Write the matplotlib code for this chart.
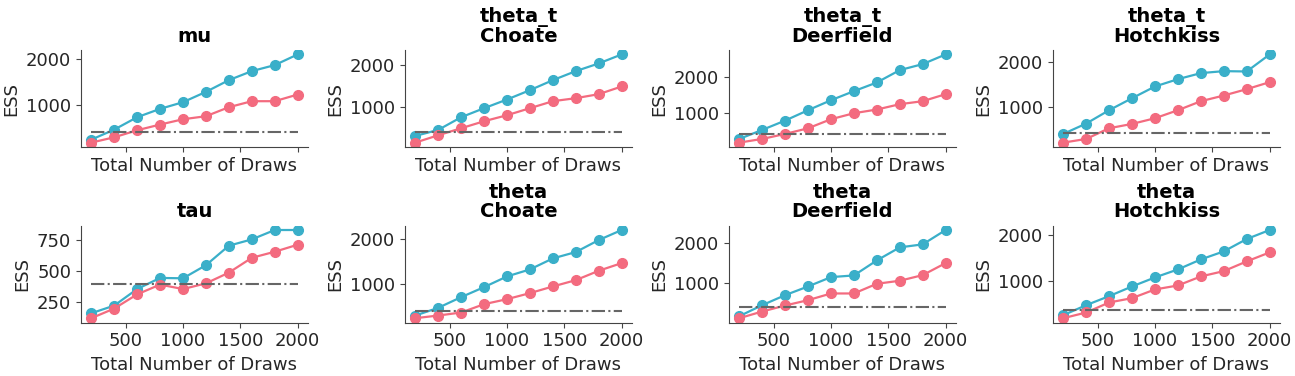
import numpy as np
import matplotlib
matplotlib.use("Agg")
import matplotlib.pyplot as plt

draws = [200, 400, 600, 800, 1000, 1200, 1400, 1600, 1800, 2000]

titles = ["mu", "theta_t\nChoate", "theta_t\nDeerfield", "theta_t\nHotchkiss",
          "tau", "theta\nChoate", "theta\nDeerfield", "theta\nHotchkiss"]

bulk_mu = [222, 444, 719, 904, 1052, 1281, 1541, 1741, 1874, 2111]
tail_mu = [156, 274, 430, 556, 674, 741, 941, 1074, 1074, 1222]

bulk_tt_choate = [296, 440, 744, 960, 1168, 1392, 1632, 1848, 2032, 2248]
tail_tt_choate = [136, 312, 480, 648, 792, 960, 1128, 1200, 1296, 1480]

bulk_tt_deerfield = [248, 505, 771, 1067, 1352, 1610, 1857, 2210, 2381, 2657]
tail_tt_deerfield = [143, 248, 390, 552, 810, 981, 1086, 1238, 1324, 1524]

bulk_tt_hotchkiss = [379, 614, 917, 1189, 1455, 1621, 1758, 1803, 1795, 2182]
tail_tt_hotchkiss = [182, 265, 508, 606, 735, 917, 1121, 1250, 1394, 1553]

bulk_tau = [160, 222, 356, 446, 443, 549, 707, 758, 834, 834]
tail_tau = [120, 198, 313, 392, 356, 402, 489, 609, 658, 715]

bulk_th_choate = [296, 467, 704, 926, 1163, 1319, 1563, 1704, 1970, 2193]
tail_th_choate = [237, 296, 363, 548, 659, 793, 941, 1081, 1289, 1459]

bulk_th_deerfield = [183, 458, 708, 925, 1158, 1200, 1575, 1900, 1975, 2333]
tail_th_deerfield = [133, 300, 450, 583, 750, 750, 992, 1067, 1208, 1508]

bulk_th_hotchkiss = [279, 493, 686, 893, 1086, 1257, 1471, 1643, 1907, 2100]
tail_th_hotchkiss = [214, 336, 550, 643, 829, 914, 1107, 1221, 1429, 1621]

bulk = [bulk_mu, bulk_tt_choate, bulk_tt_deerfield, bulk_tt_hotchkiss,
        bulk_tau, bulk_th_choate, bulk_th_deerfield, bulk_th_hotchkiss]
tail = [tail_mu, tail_tt_choate, tail_tt_deerfield, tail_tt_hotchkiss,
        tail_tau, tail_th_choate, tail_th_deerfield, tail_th_hotchkiss]

min_ess = 400

blue = "#3aafc9"
red = "#f36b7f"
txt = "#262626"

plt.rcParams["font.size"] = 13
plt.rcParams["axes.edgecolor"] = "#444444"
plt.rcParams["xtick.color"] = "#444444"
plt.rcParams["ytick.color"] = "#444444"
plt.rcParams["xtick.labelcolor"] = txt
plt.rcParams["ytick.labelcolor"] = txt

fig, axes = plt.subplots(2, 4, figsize=(12.95, 3.76), dpi=100, sharex=True)
fig.subplots_adjust(left=0.0625, right=0.9884, top=0.867, bottom=0.142,
                    wspace=0.427, hspace=0.81)

for ax, title, b, t in zip(axes.flat, titles, bulk, tail):
    ax.plot(draws, b, "o-", color=blue, markersize=7, lw=1.6)
    ax.plot(draws, t, "o-", color=red, markersize=7, lw=1.6)
    ax.hlines(min_ess, draws[0], draws[-1], color="#666666", ls="-.", lw=1.5)
    ax.set_title(title, fontweight="bold", fontsize=14, linespacing=1.0)
    ax.set_ylabel("ESS", color=txt)
    ax.set_xlabel("Total Number of Draws", color=txt)
    ax.spines["top"].set_visible(False)
    ax.spines["right"].set_visible(False)
    ax.set_xticks([500, 1000, 1500, 2000])

for ax in axes[0]:
    ax.tick_params(labelbottom=False)

axes[1, 0].set_yticks([250, 500, 750])

fig.savefig("out.png", dpi=100)
